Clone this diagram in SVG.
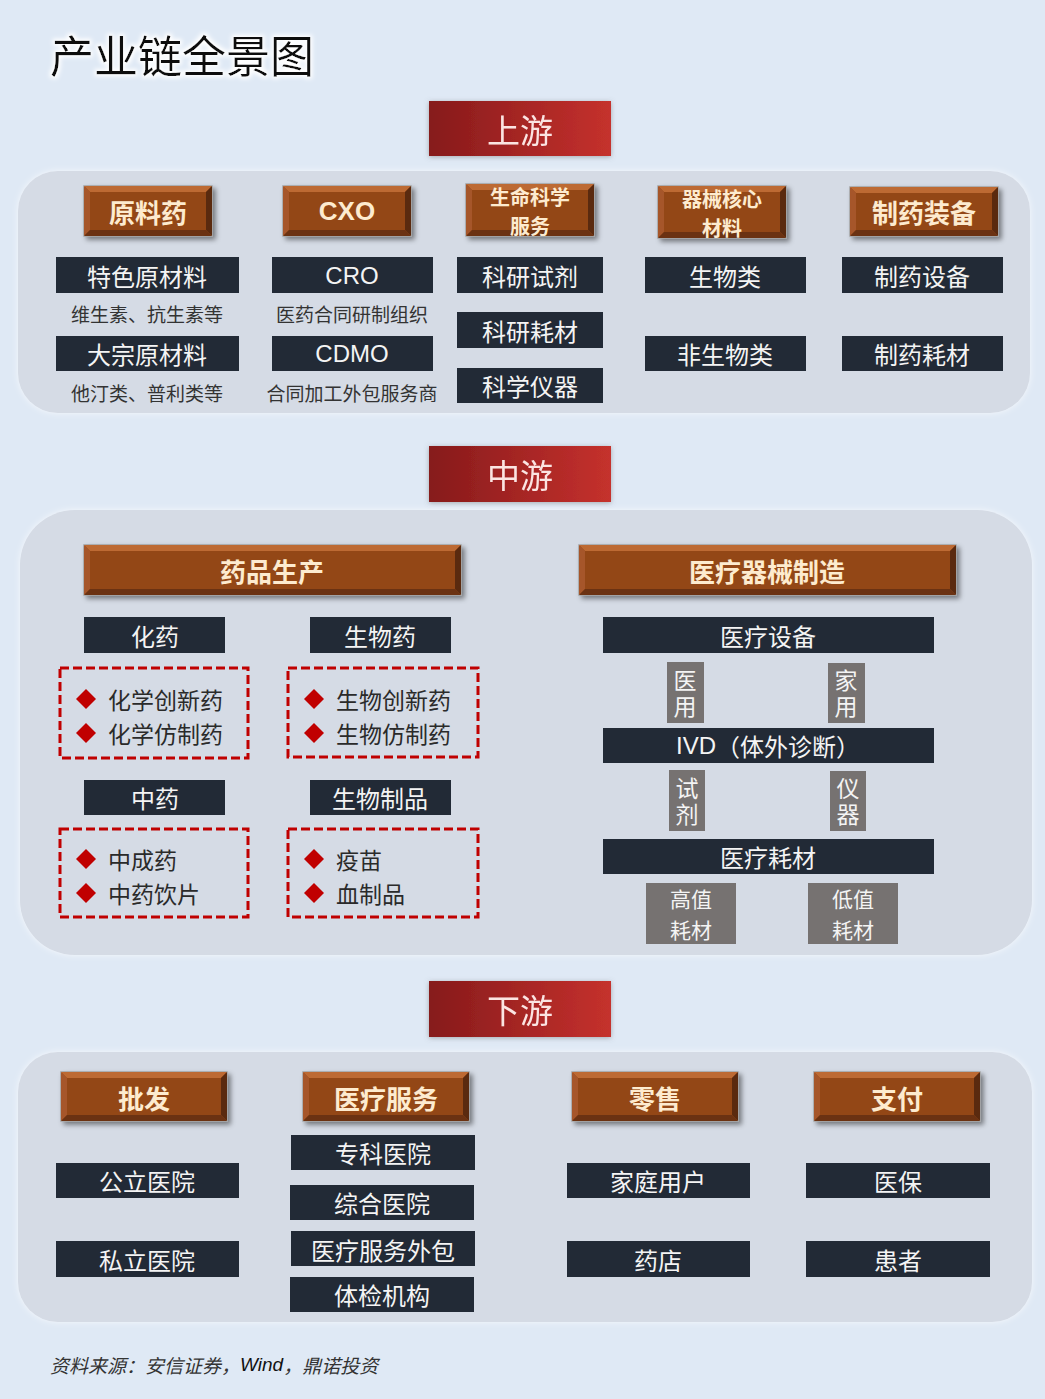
<svg xmlns="http://www.w3.org/2000/svg" width="1045" height="1399" viewBox="0 0 1045 1399">
<defs>
<linearGradient id="redg" x1="0" y1="0" x2="1" y2="0">
<stop offset="0" stop-color="#861a1b"/>
<stop offset="1" stop-color="#c5312d"/>
</linearGradient>
<filter id="sh" x="-10%" y="-20%" width="130%" height="160%">
<feDropShadow dx="3" dy="3" stdDeviation="2.5" flood-color="#000" flood-opacity="0.45"/>
</filter>
<filter id="hsh" x="-10%" y="-20%" width="120%" height="150%">
<feDropShadow dx="0" dy="1" stdDeviation="2.5" flood-color="#6a6a6a" flood-opacity="0.5"/>
</filter>
<filter id="glow" x="-5%" y="-20%" width="110%" height="140%">
<feMorphology in="SourceAlpha" operator="dilate" radius="2" result="d"/>
<feGaussianBlur in="d" stdDeviation="2" result="b"/>
<feFlood flood-color="#ffffff"/>
<feComposite in2="b" operator="in" result="w"/>
<feMerge><feMergeNode in="w"/><feMergeNode in="SourceGraphic"/></feMerge>
</filter>
<filter id="pglow" x="-5%" y="-10%" width="110%" height="120%">
<feGaussianBlur in="SourceAlpha" stdDeviation="3" result="b"/>
<feFlood flood-color="#ffffff" flood-opacity="0.7"/>
<feComposite in2="b" operator="in" result="w"/>
<feMerge><feMergeNode in="w"/><feMergeNode in="SourceGraphic"/></feMerge>
</filter>
</defs>
<style>
text{font-family:"Noto Sans CJK SC","Liberation Sans",sans-serif;}
.panel{fill:#d5dbe5;}
.hdr{fill:url(#redg);}
.hdrt{fill:#fbe4e2;font-size:33px;text-anchor:middle;dominant-baseline:central;}
.bf{fill:#934618;stroke:#a3a3a3;stroke-width:1.5;}
.bt{fill:#bd6a33;}
.bl{fill:#a6562a;}
.br{fill:#5a2a0f;}
.bb{fill:#6b3212;}
.btt{fill:#fdebcf;font-weight:bold;font-size:26px;text-anchor:middle;dominant-baseline:central;}
.bts{fill:#fdebcf;font-weight:bold;font-size:20px;text-anchor:middle;dominant-baseline:central;}
.dk{fill:#222a36;}
.dkt{fill:#f4f4f4;font-size:24px;text-anchor:middle;dominant-baseline:central;}
.lat{font-family:"Liberation Sans",Arial,sans-serif;}
.sub{fill:#333333;font-size:19px;text-anchor:middle;dominant-baseline:central;}
.gy{fill:#767271;}
.gyt{fill:#f4f4f4;font-size:23px;text-anchor:middle;dominant-baseline:central;}
.gyt2{fill:#f4f4f4;font-size:21px;text-anchor:middle;dominant-baseline:central;}
.vt{writing-mode:vertical-rl;letter-spacing:3px;}
.dash{fill:none;stroke:#c00000;stroke-width:3;stroke-dasharray:9 4;}
.dia{fill:#c00000;}
.lit{fill:#2a2a2a;font-size:23px;dominant-baseline:central;}
</style>
<rect x="0" y="0" width="1045" height="1399" fill="#dfe9f5"/>

<g id="title"><text x="50" y="54" font-size="44" fill="#111" dominant-baseline="central" filter="url(#glow)">产业链全景图</text></g>

<!-- panels -->
<g id="panel-up"><rect class="panel" x="18" y="171" width="1012" height="242" rx="40" filter="url(#pglow)"/></g>
<g id="panel-mid"><rect class="panel" x="20" y="510" width="1012" height="445" rx="55" filter="url(#pglow)"/></g>
<g id="panel-down"><rect class="panel" x="18" y="1052" width="1014" height="270" rx="40" filter="url(#pglow)"/></g>

<!-- section headers -->
<g id="hdr-up" filter="url(#hsh)"><rect class="hdr" x="429" y="101" width="182" height="55"/><text class="hdrt" x="520" y="129">上游</text></g>
<g id="hdr-mid" filter="url(#hsh)"><rect class="hdr" x="429" y="446" width="182" height="56"/><text class="hdrt" x="520" y="474">中游</text></g>
<g id="hdr-down" filter="url(#hsh)"><rect class="hdr" x="429" y="981" width="182" height="56"/><text class="hdrt" x="520" y="1009">下游</text></g>

<!-- upstream buttons -->
<g id="btn-yuanliao">
<rect class="bf" x="84" y="186" width="128" height="50" filter="url(#sh)"/>
<polygon class="bt" points="84,186 212,186 206,192 90,192"/>
<polygon class="bl" points="84,186 90,192 90,230 84,236"/>
<polygon class="br" points="212,186 212,236 206,230 206,192"/>
<polygon class="bb" points="84,236 90,230 206,230 212,236"/>
<text class="btt" x="148" y="211">原料药</text>
</g>
<g id="btn-cxo">
<rect class="bf" x="283" y="186" width="128" height="50" filter="url(#sh)"/>
<polygon class="bt" points="283,186 411,186 405,192 289,192"/>
<polygon class="bl" points="283,186 289,192 289,230 283,236"/>
<polygon class="br" points="411,186 411,236 405,230 405,192"/>
<polygon class="bb" points="283,236 289,230 405,230 411,236"/>
<text class="btt lat" x="347" y="211">CXO</text>
</g>
<g id="btn-life">
<rect class="bf" x="466" y="184" width="128" height="52" filter="url(#sh)"/>
<polygon class="bt" points="466,184 594,184 588,190 472,190"/>
<polygon class="bl" points="466,184 472,190 472,230 466,236"/>
<polygon class="br" points="594,184 594,236 588,230 588,190"/>
<polygon class="bb" points="466,236 472,230 588,230 594,236"/>
<text class="bts"><tspan x="530" y="196">生命科学</tspan><tspan x="530" y="225">服务</tspan></text>
</g>
<g id="btn-qixie">
<rect class="bf" x="658" y="186" width="128" height="52" filter="url(#sh)"/>
<polygon class="bt" points="658,186 786,186 780,192 664,192"/>
<polygon class="bl" points="658,186 664,192 664,232 658,238"/>
<polygon class="br" points="786,186 786,238 780,232 780,192"/>
<polygon class="bb" points="658,238 664,232 780,232 786,238"/>
<text class="bts"><tspan x="722" y="198">器械核心</tspan><tspan x="722" y="227">材料</tspan></text>
</g>
<g id="btn-zhiyao">
<rect class="bf" x="850" y="187" width="148" height="49" filter="url(#sh)"/>
<polygon class="bt" points="850,187 998,187 992,193 856,193"/>
<polygon class="bl" points="850,187 856,193 856,230 850,236"/>
<polygon class="br" points="998,187 998,236 992,230 992,193"/>
<polygon class="bb" points="850,236 856,230 992,230 998,236"/>
<text class="btt" x="924" y="211">制药装备</text>
</g>

<!-- upstream items -->
<g id="n-tese"><rect class="dk" x="56" y="257" width="183" height="36"/><text class="dkt" x="147" y="275">特色原材料</text></g>
<g id="n-tese-sub"><text class="sub" x="147" y="313">维生素、抗生素等</text></g>
<g id="n-dazong"><rect class="dk" x="56" y="336" width="183" height="35"/><text class="dkt" x="147" y="353">大宗原材料</text></g>
<g id="n-dazong-sub"><text class="sub" x="147" y="392">他汀类、普利类等</text></g>
<g id="n-cro"><rect class="dk" x="272" y="257" width="161" height="36"/><text class="dkt lat" x="352" y="275">CRO</text></g>
<g id="n-cro-sub"><text class="sub" x="352" y="313">医药合同研制组织</text></g>
<g id="n-cdmo"><rect class="dk" x="272" y="336" width="161" height="35"/><text class="dkt lat" x="352" y="353">CDMO</text></g>
<g id="n-cdmo-sub"><text class="sub" x="352" y="392">合同加工外包服务商</text></g>
<g id="n-shiji"><rect class="dk" x="457" y="257" width="146" height="36"/><text class="dkt" x="530" y="275">科研试剂</text></g>
<g id="n-haocai"><rect class="dk" x="457" y="312" width="146" height="36"/><text class="dkt" x="530" y="330">科研耗材</text></g>
<g id="n-yiqi"><rect class="dk" x="457" y="368" width="146" height="35"/><text class="dkt" x="530" y="385">科学仪器</text></g>
<g id="n-shengwu"><rect class="dk" x="645" y="257" width="161" height="36"/><text class="dkt" x="725" y="275">生物类</text></g>
<g id="n-feishengwu"><rect class="dk" x="645" y="336" width="161" height="35"/><text class="dkt" x="725" y="353">非生物类</text></g>
<g id="n-zysb"><rect class="dk" x="842" y="257" width="161" height="36"/><text class="dkt" x="922" y="275">制药设备</text></g>
<g id="n-zyhc"><rect class="dk" x="842" y="336" width="161" height="35"/><text class="dkt" x="922" y="353">制药耗材</text></g>

<!-- midstream buttons -->
<g id="btn-ypsc">
<rect class="bf" x="84" y="545" width="377" height="50" filter="url(#sh)"/>
<polygon class="bt" points="84,545 461,545 455,551 90,551"/>
<polygon class="bl" points="84,545 90,551 90,589 84,595"/>
<polygon class="br" points="461,545 461,595 455,589 455,551"/>
<polygon class="bb" points="84,595 90,589 455,589 461,595"/>
<text class="btt" x="272" y="570">药品生产</text>
</g>
<g id="btn-ylqx">
<rect class="bf" x="579" y="545" width="377" height="50" filter="url(#sh)"/>
<polygon class="bt" points="579,545 956,545 950,551 585,551"/>
<polygon class="bl" points="579,545 585,551 585,589 579,595"/>
<polygon class="br" points="956,545 956,595 950,589 950,551"/>
<polygon class="bb" points="579,595 585,589 950,589 956,595"/>
<text class="btt" x="767" y="570">医疗器械制造</text>
</g>

<!-- drug production -->
<g id="n-huayao"><rect class="dk" x="84" y="617" width="141" height="36"/><text class="dkt" x="155" y="635">化药</text></g>
<g id="n-shengwuyao"><rect class="dk" x="310" y="617" width="141" height="36"/><text class="dkt" x="380" y="635">生物药</text></g>
<g id="n-zhongyao"><rect class="dk" x="84" y="780" width="141" height="35"/><text class="dkt" x="155" y="797">中药</text></g>
<g id="n-swzp"><rect class="dk" x="310" y="780" width="141" height="35"/><text class="dkt" x="380" y="797">生物制品</text></g>

<g id="list-huayao">
<rect class="dash" x="60" y="668" width="188" height="90"/>
<polygon class="dia" points="86,689 96,699 86,709 76,699"/>
<polygon class="dia" points="86,723 96,733 86,743 76,733"/>
<text class="lit"><tspan x="108" y="699">化学创新药</tspan><tspan x="108" y="733">化学仿制药</tspan></text>
</g>
<g id="list-shengwuyao">
<rect class="dash" x="288" y="668" width="190" height="89"/>
<polygon class="dia" points="314,689 324,699 314,709 304,699"/>
<polygon class="dia" points="314,723 324,733 314,743 304,733"/>
<text class="lit"><tspan x="336" y="699">生物创新药</tspan><tspan x="336" y="733">生物仿制药</tspan></text>
</g>
<g id="list-zhongyao">
<rect class="dash" x="60" y="829" width="188" height="88"/>
<polygon class="dia" points="86,849 96,859 86,869 76,859"/>
<polygon class="dia" points="86,883 96,893 86,903 76,893"/>
<text class="lit"><tspan x="108" y="859">中成药</tspan><tspan x="108" y="893">中药饮片</tspan></text>
</g>
<g id="list-swzp">
<rect class="dash" x="288" y="829" width="190" height="88"/>
<polygon class="dia" points="314,849 324,859 314,869 304,859"/>
<polygon class="dia" points="314,883 324,893 314,903 304,893"/>
<text class="lit"><tspan x="336" y="859">疫苗</tspan><tspan x="336" y="893">血制品</tspan></text>
</g>

<!-- device manufacturing -->
<g id="n-ylsb"><rect class="dk" x="603" y="617" width="331" height="36"/><text class="dkt" x="768" y="635">医疗设备</text></g>
<g id="n-yiyong"><rect class="gy" x="667" y="662" width="37" height="61"/><text class="gyt vt" x="685" y="695">医用</text></g>
<g id="n-jiayong"><rect class="gy" x="828" y="663" width="37" height="60"/><text class="gyt vt" x="846" y="695">家用</text></g>
<g id="n-ivd"><rect class="dk" x="603" y="728" width="331" height="35"/><text class="dkt" x="768" y="745"><tspan class="lat">IVD</tspan>（体外诊断）</text></g>
<g id="n-shiji2"><rect class="gy" x="669" y="770" width="36" height="61"/><text class="gyt vt" x="687" y="803">试剂</text></g>
<g id="n-yiqi2"><rect class="gy" x="830" y="771" width="36" height="60"/><text class="gyt vt" x="848" y="803">仪器</text></g>
<g id="n-ylhc"><rect class="dk" x="603" y="839" width="331" height="35"/><text class="dkt" x="768" y="856">医疗耗材</text></g>
<g id="n-gaozhi"><rect class="gy" x="646" y="883" width="90" height="61"/><text class="gyt2"><tspan x="691" y="898">高值</tspan><tspan x="691" y="929">耗材</tspan></text></g>
<g id="n-dizhi"><rect class="gy" x="808" y="883" width="90" height="61"/><text class="gyt2"><tspan x="853" y="898">低值</tspan><tspan x="853" y="929">耗材</tspan></text></g>

<!-- downstream buttons -->
<g id="btn-pifa">
<rect class="bf" x="61" y="1072" width="166" height="49" filter="url(#sh)"/>
<polygon class="bt" points="61,1072 227,1072 221,1078 67,1078"/>
<polygon class="bl" points="61,1072 67,1078 67,1115 61,1121"/>
<polygon class="br" points="227,1072 227,1121 221,1115 221,1078"/>
<polygon class="bb" points="61,1121 67,1115 221,1115 227,1121"/>
<text class="btt" x="144" y="1097">批发</text>
</g>
<g id="btn-ylfw">
<rect class="bf" x="303" y="1072" width="166" height="49" filter="url(#sh)"/>
<polygon class="bt" points="303,1072 469,1072 463,1078 309,1078"/>
<polygon class="bl" points="303,1072 309,1078 309,1115 303,1121"/>
<polygon class="br" points="469,1072 469,1121 463,1115 463,1078"/>
<polygon class="bb" points="303,1121 309,1115 463,1115 469,1121"/>
<text class="btt" x="386" y="1097">医疗服务</text>
</g>
<g id="btn-lingshou">
<rect class="bf" x="572" y="1072" width="166" height="49" filter="url(#sh)"/>
<polygon class="bt" points="572,1072 738,1072 732,1078 578,1078"/>
<polygon class="bl" points="572,1072 578,1078 578,1115 572,1121"/>
<polygon class="br" points="738,1072 738,1121 732,1115 732,1078"/>
<polygon class="bb" points="572,1121 578,1115 732,1115 738,1121"/>
<text class="btt" x="655" y="1097">零售</text>
</g>
<g id="btn-zhifu">
<rect class="bf" x="814" y="1072" width="166" height="49" filter="url(#sh)"/>
<polygon class="bt" points="814,1072 980,1072 974,1078 820,1078"/>
<polygon class="bl" points="814,1072 820,1078 820,1115 814,1121"/>
<polygon class="br" points="980,1072 980,1121 974,1115 974,1078"/>
<polygon class="bb" points="814,1121 820,1115 974,1115 980,1121"/>
<text class="btt" x="897" y="1097">支付</text>
</g>

<!-- downstream items -->
<g id="n-gongli"><rect class="dk" x="56" y="1163" width="183" height="35"/><text class="dkt" x="147" y="1180">公立医院</text></g>
<g id="n-sili"><rect class="dk" x="56" y="1241" width="183" height="36"/><text class="dkt" x="147" y="1259">私立医院</text></g>
<g id="n-zhuanke"><rect class="dk" x="291" y="1135" width="184" height="35"/><text class="dkt" x="383" y="1152">专科医院</text></g>
<g id="n-zonghe"><rect class="dk" x="290" y="1185" width="184" height="35"/><text class="dkt" x="382" y="1202">综合医院</text></g>
<g id="n-waibao"><rect class="dk" x="291" y="1231" width="184" height="35"/><text class="dkt" x="383" y="1249" font-size="22">医疗服务外包</text></g>
<g id="n-tijian"><rect class="dk" x="290" y="1277" width="184" height="35"/><text class="dkt" x="382" y="1294">体检机构</text></g>
<g id="n-jiating"><rect class="dk" x="567" y="1163" width="183" height="35"/><text class="dkt" x="658" y="1180">家庭用户</text></g>
<g id="n-yaodian"><rect class="dk" x="567" y="1241" width="183" height="36"/><text class="dkt" x="658" y="1259">药店</text></g>
<g id="n-yibao"><rect class="dk" x="806" y="1163" width="184" height="35"/><text class="dkt" x="898" y="1180">医保</text></g>
<g id="n-huanzhe"><rect class="dk" x="806" y="1241" width="184" height="36"/><text class="dkt" x="898" y="1259">患者</text></g>

<g id="connectors"></g>

<g id="footer"><text x="50" y="1364" font-size="19" font-style="italic" fill="#333" dominant-baseline="central">资料来源：安信证券，<tspan class="lat" fill="#111">Wind</tspan>，鼎诺投资</text></g>
</svg>
